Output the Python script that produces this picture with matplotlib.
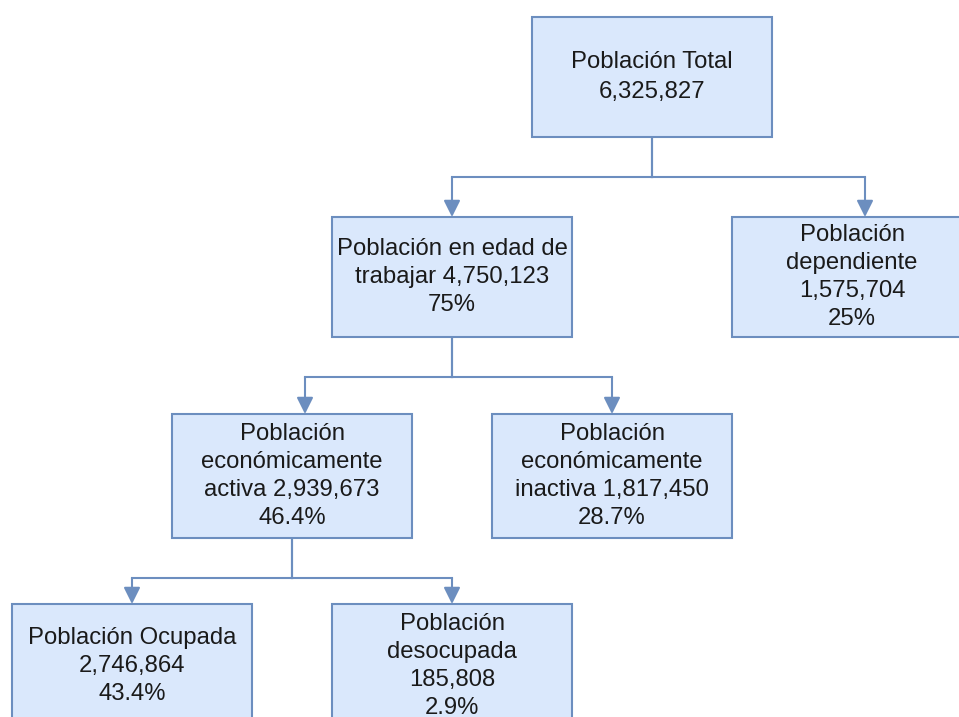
import matplotlib.pyplot as plt
from matplotlib.patches import Rectangle

# data
names = ["Población Total", "Población en edad de\ntrabajar", "Población\ndependiente",
         "Población\neconómicamente\nactiva", "Población\neconómicamente\ninactiva",
         "Población Ocupada", "Población\ndesocupada"]
values = [6325827, 4750123, 1575704, 2939673, 1817450, 2746864, 185808]
percents = ["", "75%", "25%", "46.4%", "28.7%", "43.4%", "2.9%"]
parents = [None, 0, 0, 1, 1, 3, 3]
# how the value joins the name: same line or new line
joins = ["\n", " ", "\n", " ", " ", "\n", "\n"]

# layout (pixels): left, top, height of each box
box_pos = [(532, 17), (332, 217), (732, 217), (172, 414), (492, 414), (12, 604), (332, 604)]
box_h = [120, 120, 120, 124, 124, 124, 124]
box_w = 240
arrow_x = [None, 452, 865, 305, 612, 132, 452]
spacing = [1.45, 1.36, 1.36, 1.36, 1.36, 1.36, 1.36]

fill = "#dae8fc"
edge = "#6c8ebf"

plt.rcParams['font.family'] = ['Liberation Sans', 'DejaVu Sans']

fig = plt.figure(figsize=(9.59, 7.17), dpi=100)
ax = fig.add_axes([0, 0, 1, 1])
ax.set_xlim(0, 959)
ax.set_ylim(717, 0)
ax.axis("off")

for i, name in enumerate(names):
    x, y = box_pos[i]
    ax.add_patch(Rectangle((x, y), box_w, box_h[i], facecolor=fill, edgecolor=edge, lw=1.5, zorder=2))
    label = name + joins[i] + f"{values[i]:,}"
    if percents[i]:
        label += "\n" + percents[i]
    ax.text(x + box_w / 2, y + box_h[i] / 2, label, ha="center", va="center",
            fontsize=17.2, linespacing=spacing[i], color="#1a1a1a", zorder=3)

# connectors
for i, p in enumerate(parents):
    if p is None:
        continue
    px, py = box_pos[p]
    cx = px + box_w / 2
    bottom = py + box_h[p]
    top = box_pos[i][1]
    mid = bottom + 40
    ax.plot([cx, cx], [bottom, mid], color=edge, lw=1.5, zorder=1)
    ax.plot([cx, arrow_x[i]], [mid, mid], color=edge, lw=1.5, zorder=1)
    ax.annotate("", xy=(arrow_x[i], top), xytext=(arrow_x[i], mid),
                arrowprops=dict(arrowstyle="-|>,head_length=1.0,head_width=0.5",
                                color=edge, lw=1.5, shrinkA=0, shrinkB=0), zorder=1)

fig.savefig("out.png", dpi=100)
